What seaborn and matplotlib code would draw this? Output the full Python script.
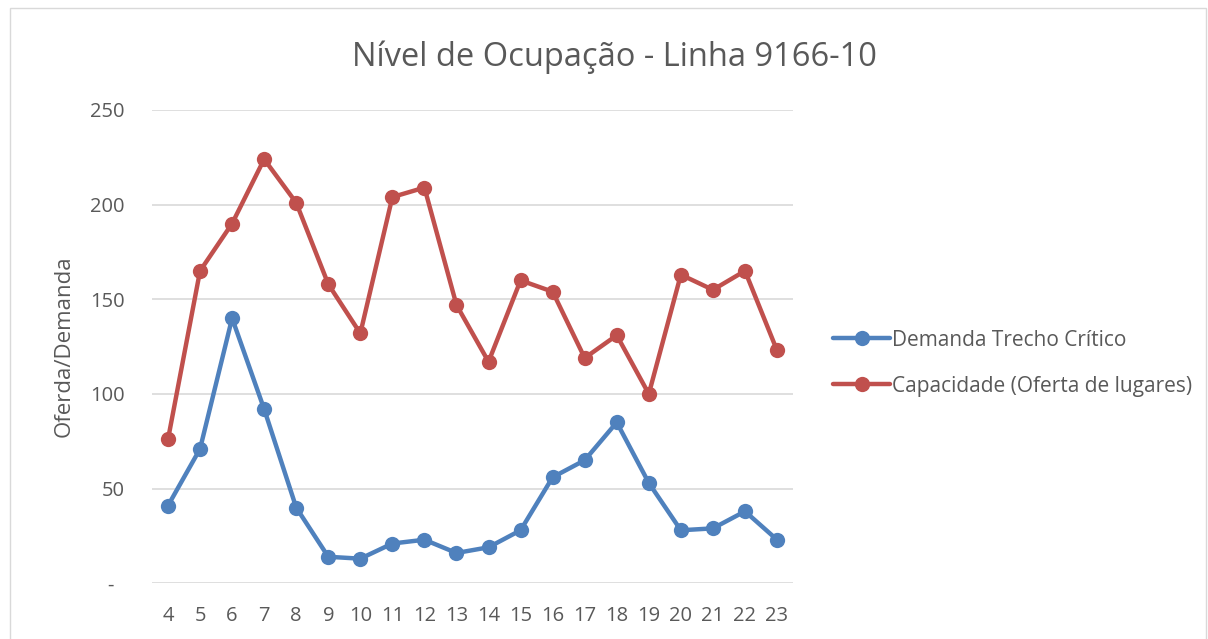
import pandas as pd
import matplotlib.pyplot as plt
import seaborn as sns
from matplotlib.patches import Rectangle

hours = list(range(4, 24))
demanda = [41, 71, 140, 92, 40, 14, 13, 21, 23, 16, 19, 28, 56, 65, 85, 53, 28, 29, 38, 23]
capacidade = [76, 165, 190, 224, 201, 158, 132, 204, 209, 147, 117, 160, 154, 119, 131, 100, 163, 155, 165, 123]
series_names = ["Demanda Trecho Crítico", "Capacidade (Oferta de lugares)"]
colors = ["#4F81BD", "#C0504D"]
y_ticks = [0, 50, 100, 150, 200, 250]
y_tick_labels = ["-  ", "50", "100", "150", "200", "250"]

df = pd.DataFrame({
    "hora": hours * 2,
    "valor": demanda + capacidade,
    "serie": [series_names[0]] * len(hours) + [series_names[1]] * len(hours),
})

sns.set_theme(style="white")
plt.rcParams["font.family"] = ["Open Sans", "DejaVu Sans"]
text_color = "#595959"

fig = plt.figure(figsize=(12.08, 6.39), dpi=100)
ax = fig.add_axes([0.1258, 0.0872, 0.5307, 0.7407])

sns.lineplot(
    data=df, x="hora", y="valor", hue="serie", hue_order=series_names,
    palette=colors, marker="o", markersize=11, markeredgewidth=0,
    linewidth=3.2, ax=ax, zorder=3,
)

ax.set_xlim(3.5, 23.5)
ax.set_ylim(0, 250)
ax.set_xticks(hours)
ax.set_xticklabels([str(h) for h in hours])
ax.set_yticks(y_ticks)
ax.set_yticklabels(y_tick_labels)
ax.yaxis.grid(True, color="#D9D9D9", linewidth=1.2)
ax.xaxis.grid(False)
for s in ax.spines.values():
    s.set_visible(False)
ax.tick_params(axis="both", length=0, labelsize=14.5, labelcolor=text_color)
ax.tick_params(axis="y", pad=19.5)
ax.tick_params(axis="x", pad=16)
ax.set_xlabel("")
ax.set_ylabel("Oferda/Demanda", fontsize=16, color=text_color, labelpad=11)

fig.text(0.509, 0.911, "Nível de Ocupação - Linha 9166-10", ha="center", va="center",
         fontsize=23.5, color=text_color)

leg = ax.legend(loc="center left", bbox_to_anchor=(1.033, 0.465), frameon=False,
                fontsize=15, handlelength=2.75, handletextpad=0.1, labelspacing=1.2)
for t in leg.get_texts():
    t.set_color(text_color)

fig.patches.append(Rectangle((0.008, -0.01), 0.99, 0.997, transform=fig.transFigure,
                             fill=False, edgecolor="#D9D9D9", linewidth=1))

fig.savefig("out.png", dpi=100)
